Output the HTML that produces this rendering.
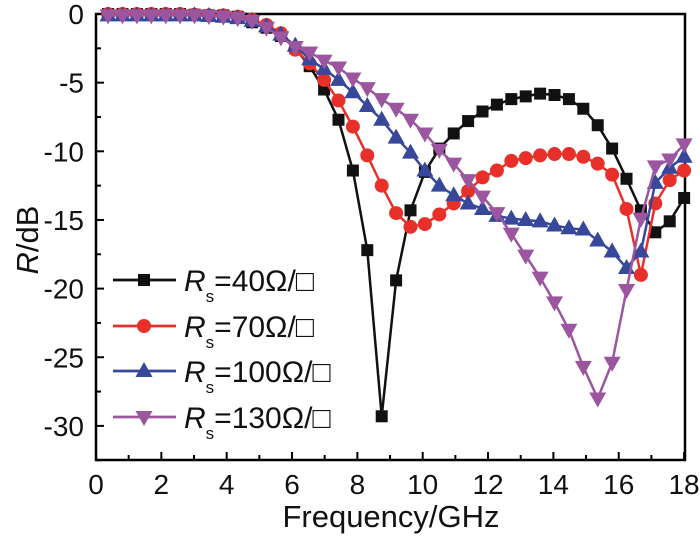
<!DOCTYPE html>
<html><head><meta charset="utf-8"><style>
html,body{margin:0;padding:0;background:#fff;}
svg{display:block;font-family:"Liberation Sans",Arial,sans-serif;}
</style></head><body>
<svg id="chart" width="700" height="540" viewBox="0 0 700 540" xmlns="http://www.w3.org/2000/svg">
<g id="axes"></g>
<g id="series"></g>
<g id="legend"></g>
</svg>
<script>
const xTicks = [0,2,4,6,8,10,12,14,16,18];
const yTicks = [0,-5,-10,-15,-20,-25,-30];
const seriesNames = ["40","70","100","130"];
const freqStart = 0.37, freqStep = 0.4408;
const r40 = [0,0,0,0,0,0,-0.05,-0.1,-0.1,-0.2,-0.6,-1.0,-1.6,-2.5,-3.8,-5.5,-7.7,-11.4,-17.2,-29.3,-19.4,-14.3,-11.5,-9.8,-8.7,-7.8,-7.1,-6.6,-6.2,-6.0,-5.8,-5.9,-6.2,-6.9,-8.1,-9.8,-12.0,-14.3,-15.9,-15.1,-13.4];
const r70 = [0,0,0,0,0,0,-0.05,-0.1,-0.1,-0.2,-0.4,-0.8,-1.4,-2.6,-3.6,-4.8,-6.3,-8.2,-10.3,-12.5,-14.5,-15.5,-15.3,-14.6,-13.8,-12.9,-11.9,-11.4,-10.7,-10.5,-10.3,-10.2,-10.2,-10.4,-10.9,-11.7,-14.2,-19.0,-13.8,-12.1,-11.4];
const r100 = [-0.1,-0.1,-0.1,-0.1,-0.1,-0.1,-0.1,-0.15,-0.2,-0.3,-0.5,-0.9,-1.5,-2.3,-3.3,-4.0,-4.8,-5.7,-6.7,-7.7,-9.0,-10.1,-11.4,-12.5,-13.2,-13.8,-14.2,-14.7,-14.9,-15.0,-15.1,-15.4,-15.6,-15.7,-16.5,-17.3,-18.5,-17.3,-12.3,-11.2,-10.4];
const r130 = [-0.1,-0.1,-0.1,-0.1,-0.1,-0.1,-0.1,-0.15,-0.2,-0.3,-0.5,-1.0,-1.7,-2.4,-2.8,-3.4,-3.9,-4.7,-5.4,-6.2,-6.9,-7.7,-8.7,-9.9,-10.9,-12.1,-13.3,-14.5,-16.0,-17.6,-19.2,-21.0,-23.0,-25.7,-28.0,-25.4,-20.1,-14.9,-11.1,-10.6,-9.5];

const NS="http://www.w3.org/2000/svg";
const X0=96,X1=685,Y0=14,Y1=460;
function xs(v){return 96+v*32.67;}
function ys(d){return 14-d*13.73;}
function mk(tag,attrs,parent){const e=document.createElementNS(NS,tag);for(const k in attrs)e.setAttribute(k,attrs[k]);parent.appendChild(e);return e;}
const axes=document.getElementById('axes');
const frame=mk('rect',{x:X0,y:Y0,width:X1-X0,height:Y1-Y0,fill:'none',stroke:'#000','stroke-width':2.5},axes);


for(let v=0;v<=18;v++){
  const len=(v%2===0)?8:5;
  const t=mk('line',{x1:xs(v),x2:xs(v),y1:Y1,y2:Y1-len,stroke:'#000','stroke-width':2},axes);
  
  
}
xTicks.forEach(v=>{
  const t=mk('text',{x:xs(v),y:494,'text-anchor':'middle','font-size':28,fill:'#111'},axes);
  t.textContent=v;
  
  
});
for(let d=0;d>=-32.5;d-=2.5){
  const len=(d%5===0)?8:5;
  const t=mk('line',{x1:X0,x2:X0+len,y1:ys(d),y2:ys(d),stroke:'#000','stroke-width':2},axes);
  
  
}
yTicks.forEach(d=>{
  const t=mk('text',{x:84,y:ys(d)+10,'text-anchor':'end','font-size':28,fill:'#111'},axes);
  t.textContent=d;
  
  
});
const xt=mk('text',{x:391,y:527,'text-anchor':'middle','font-size':31,fill:'#111'},axes);
xt.textContent='Frequency/GHz';


const yt=mk('text',{x:0,y:0,'text-anchor':'middle','font-size':31,fill:'#111',transform:'translate(38,240) rotate(-90)'},axes);
yt.innerHTML='<tspan font-style="italic">R</tspan>/dB';



const colors=['#111111','#e8302a','#37479a','#9c56a0'];
const shapes=['square','circle','up','down'];
const data=[r40,r70,r100,r130];
function marker(g,shape,cx,cy,c){
  let e;
  if(shape==='square')e=mk('rect',{x:cx-6,y:cy-6,width:12,height:12,fill:c},g);
  else if(shape==='circle')e=mk('circle',{cx:cx,cy:cy,r:7,fill:c},g);
  else if(shape==='up')e=mk('polygon',{points:`${cx},${cy-9} ${cx-8.5},${cy+6} ${cx+8.5},${cy+6}`,fill:c},g);
  else e=mk('polygon',{points:`${cx},${cy+9} ${cx-8.5},${cy-6} ${cx+8.5},${cy-6}`,fill:c},g);
  return e;
}
const sg=document.getElementById('series');
data.forEach((arr,s)=>{
  const g=mk('g',{},sg);
  
  
  const pts=arr.map((d,i)=>[xs(freqStart+i*freqStep),ys(d)]);
  const pl=mk('polyline',{points:pts.map(p=>p.join(',')).join(' '),fill:'none',stroke:colors[s],'stroke-width':2.5,'stroke-linejoin':'round'},g);
  
  
  pts.forEach(p=>{
    const m=marker(g,shapes[s],p[0],p[1],colors[s]);
    
    
  });
});
const lg=document.getElementById('legend');
const rowsY=[280,326,371,417];
seriesNames.forEach((n,s)=>{
  const g=mk('g',{},lg);
  
  
  mk('line',{x1:113,x2:176,y1:rowsY[s],y2:rowsY[s],stroke:colors[s],'stroke-width':2.8},g);
  marker(g,shapes[s],144,rowsY[s],colors[s]);
  const t=mk('text',{x:184,y:rowsY[s]+11,'font-size':30,fill:'#111'},g);
  t.innerHTML='<tspan font-style="italic">R</tspan><tspan font-size="17" dy="11">s</tspan><tspan dy="-11">='+n+'Ω/□</tspan>';
});
</script>
</body></html>
